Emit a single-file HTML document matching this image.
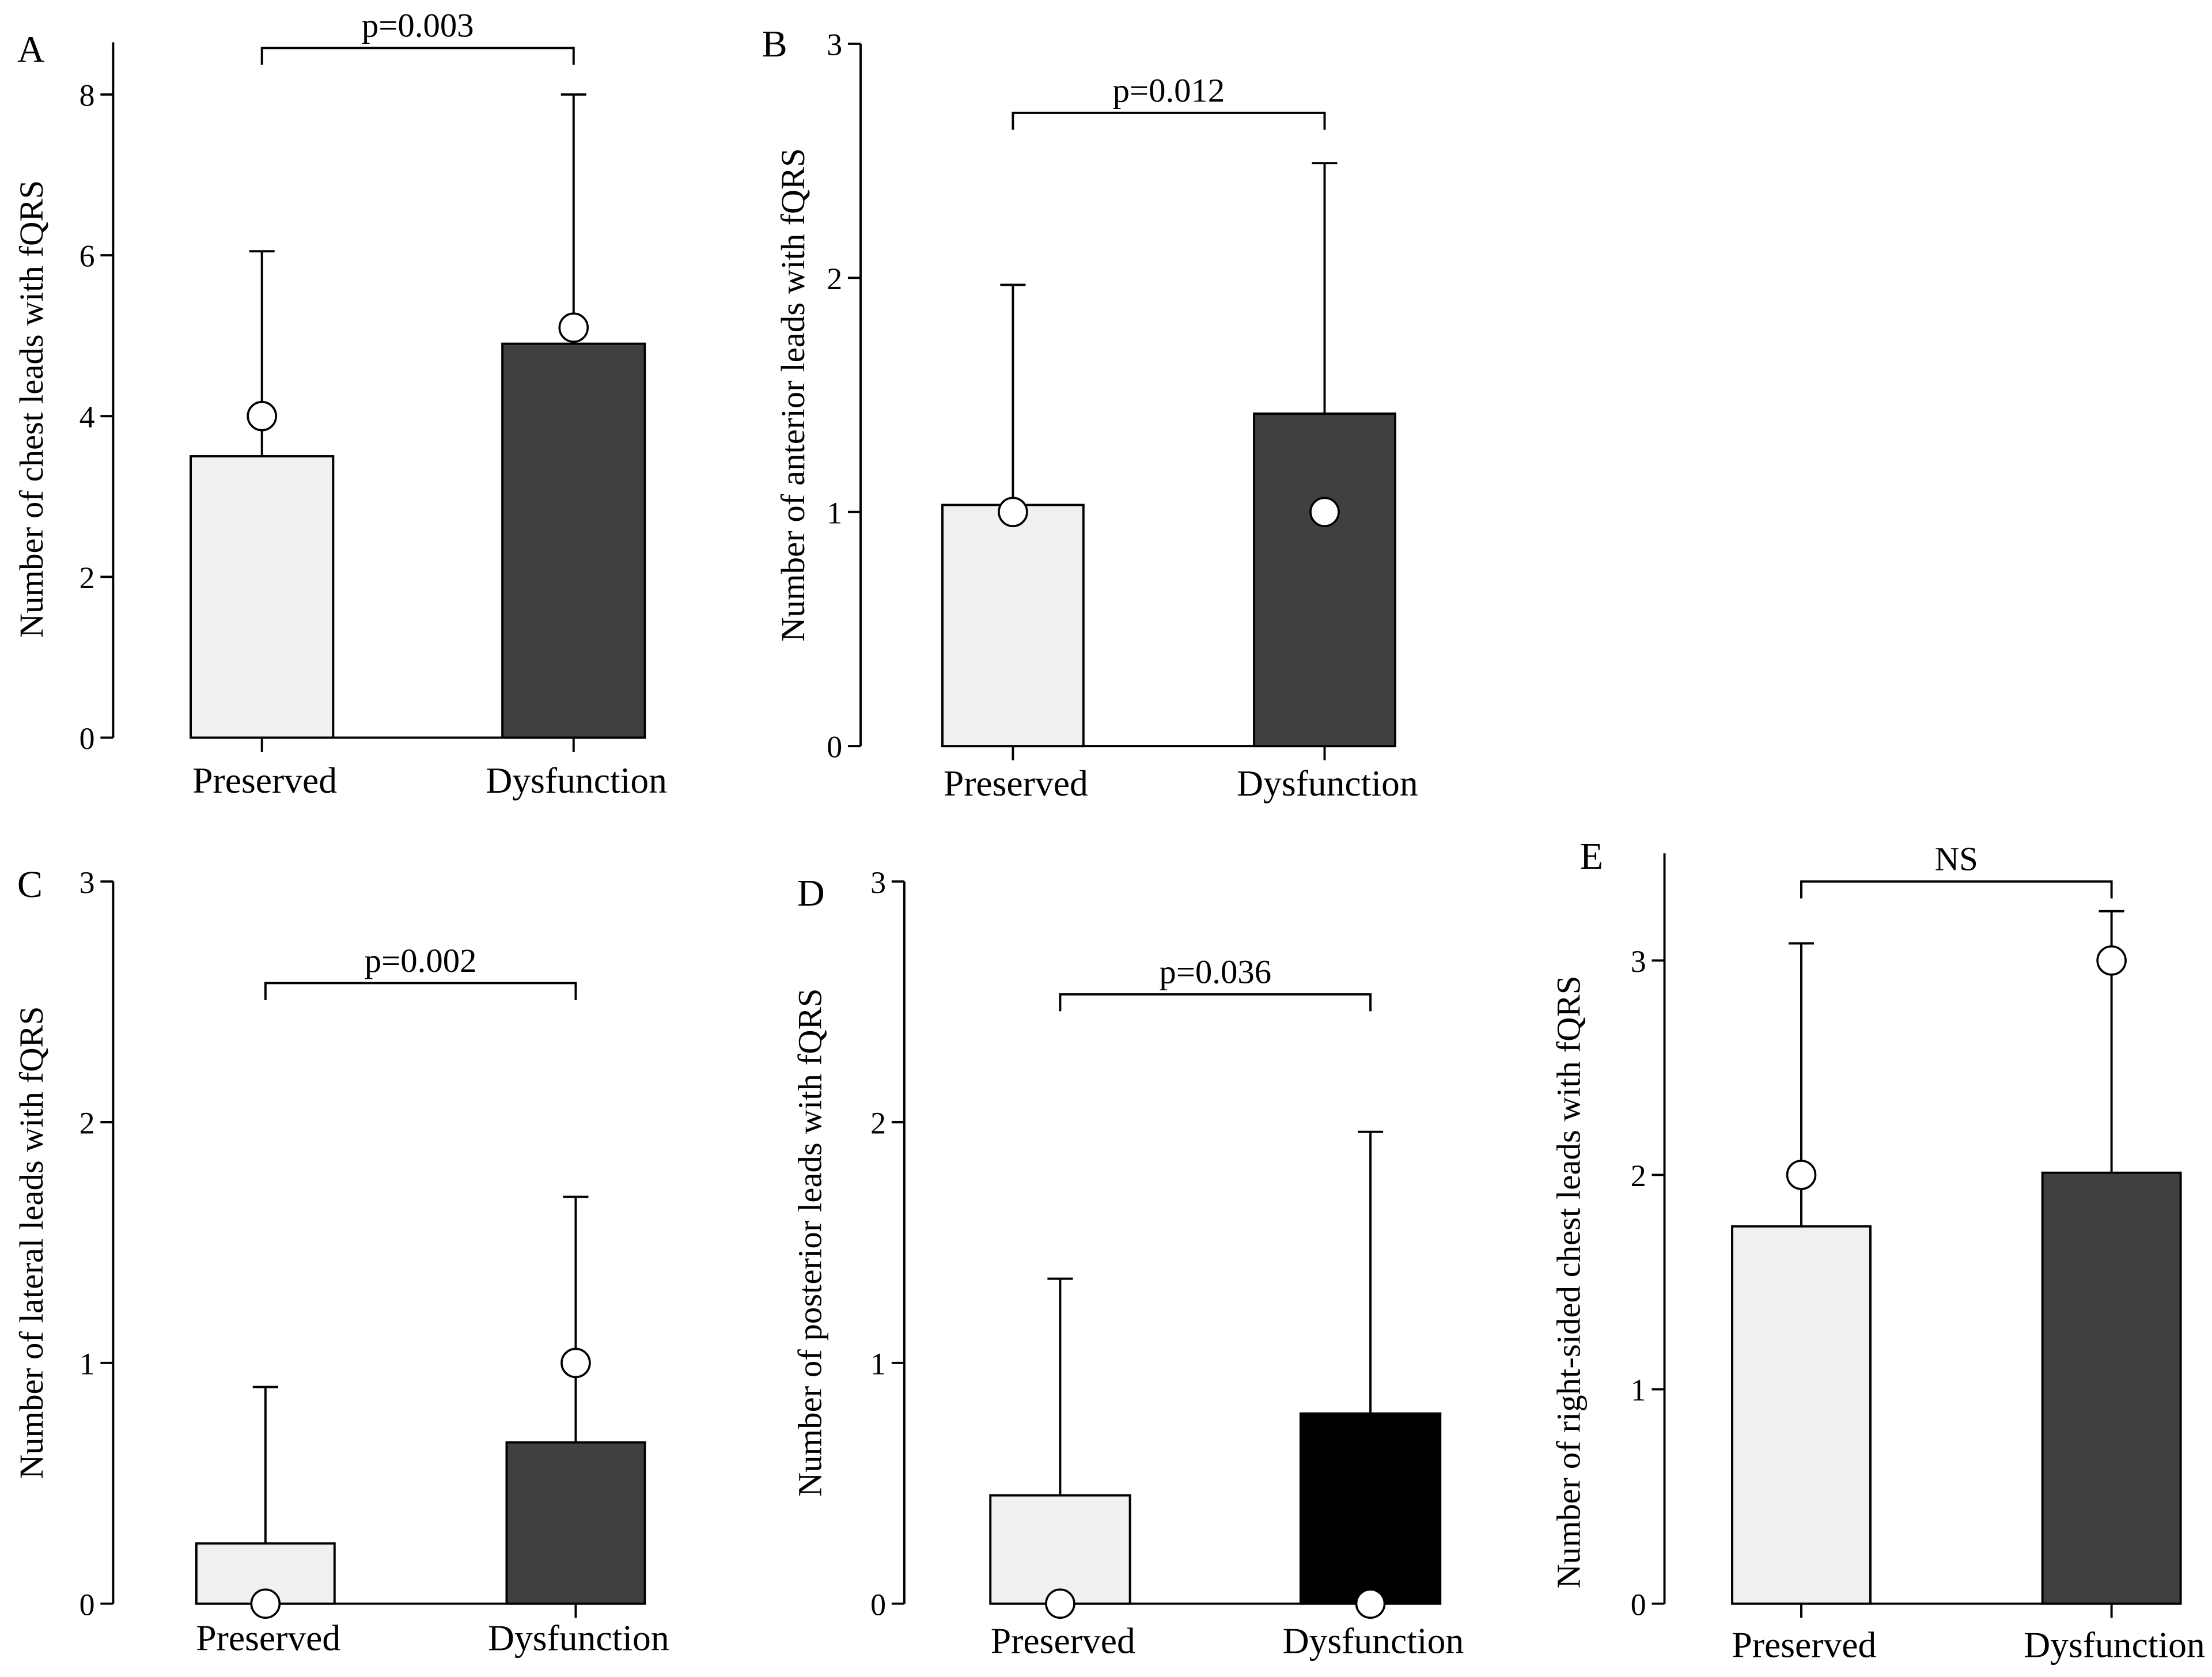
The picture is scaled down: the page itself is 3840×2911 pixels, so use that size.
<!DOCTYPE html>
<html><head><meta charset="utf-8"><style>
html,body{margin:0;padding:0;background:#fff;}
svg{display:block;}
text{font-family:"Liberation Serif",serif;fill:#000;}
</style></head><body>
<svg id="chart" width="3840" height="2911" viewBox="0 0 1568 1189" xmlns="http://www.w3.org/2000/svg"></svg>
<script>
const categories = ["Preserved","Dysfunction"];
const panelLabels = ["A","B","C","D","E"];
const yTitles = ["Number of chest leads with fQRS","Number of anterior leads with fQRS","Number of lateral leads with fQRS","Number of posterior leads with fQRS","Number of right-sided  chest leads with fQRS"];
const meanA = [3.5, 4.9], errA = [6.05, 8.0], medA = [4, 5.1];
const meanB = [1.03, 1.42], errB = [1.97, 2.49], medB = [1, 1];
const meanC = [0.25, 0.67], errC = [0.9, 1.69], medC = [0, 1];
const meanD = [0.45, 0.79], errD = [1.35, 1.96], medD = [0, 0];
const meanE = [1.76, 2.01], errE = [3.08, 3.23], medE = [2, 3];
const ticksA = [0,2,4,6,8], ticksB = [0,1,2,3], ticksC = [0,1,2,3], ticksD = [0,1,2,3], ticksE = [0,1,2,3];
const pLabels = ["p=0.003","p=0.012","p=0.002","p=0.036","NS"];

const layouts = [
 {ax:80, y0:523, yTop:67, vTop:8, axisTop:30, b1:135, b2:356, bw:101, br:34, cat:562, lx:12, ly:44, tx:30, dark:["#f0f0f0","#404040"], tick:ticksA, mean:meanA, err:errA, med:medA},
 {ax:610, y0:529, yTop:31, vTop:3, axisTop:31, b1:668, b2:889, bw:100, br:80, cat:564, lx:540, ly:40, tx:570, dark:["#f0f0f0","#404040"], tick:ticksB, mean:meanB, err:errB, med:medB},
 {ax:80, y0:1137, yTop:625, vTop:3, axisTop:625, b1:139, b2:359, bw:98, br:697, cat:1170, lx:12, ly:636, tx:30, dark:["#f0f0f0","#404040"], tick:ticksC, mean:meanC, err:errC, med:medC},
 {ax:641, y0:1137, yTop:625, vTop:3, axisTop:625, b1:702, b2:922, bw:99, br:705, cat:1172, lx:565, ly:642, tx:582, dark:["#f0f0f0","#000000"], tick:ticksD, mean:meanD, err:errD, med:medD},
 {ax:1180, y0:1137, yTop:681, vTop:3, axisTop:605, b1:1228, b2:1448, bw:98, br:625, cat:1175, lx:1120, ly:616, tx:1120, dark:["#f0f0f0","#404040"], tick:ticksE, mean:meanE, err:errE, med:medE}
];
const svg = document.getElementById('chart');
const NS = 'http://www.w3.org/2000/svg';
function mk(tag, attrs, parent){const e=document.createElementNS(NS,tag);for(const k in attrs)e.setAttribute(k,attrs[k]);(parent||svg).appendChild(e);return e;}

layouts.forEach((L,i)=>{
  const g = mk('g',{});
  
  
  const y = v => L.y0 - (v/L.vTop)*(L.y0-L.yTop);
  const ln = (x1,y1,x2,y2,w)=>mk('line',{x1,y1,x2,y2,stroke:'#000','stroke-width':w||1.6},g);
  const pl = mk('text',{x:L.lx,y:L.ly,'font-size':27},g); pl.textContent=panelLabels[i];
   
  const axis = ln(L.ax,L.axisTop,L.ax,L.y0);
   
  L.tick.forEach(t=>{
    ln(L.ax-9,y(t),L.ax,y(t));
    const tt = mk('text',{x:L.ax-13,y:y(t)+8,'font-size':22,'text-anchor':'end'},g); tt.textContent=t;
     
  });
  const yc = (L.y0+L.yTop)/2 - (i===0?5:0);
  const yt = mk('text',{x:0,y:0,'font-size':24,'text-anchor':'middle',transform:`translate(${L.tx},${yc}) rotate(-90)`},g);
  yt.textContent = yTitles[i];
   
  ln(L.b1,L.y0,L.b2+L.bw,L.y0);
  const xs=[L.b1,L.b2];
  xs.forEach((bx,j)=>{
    const cx = bx+L.bw/2;
    ln(cx,y(L.err[j]),cx,y(L.mean[j]));
    ln(cx-9,y(L.err[j]),cx+9,y(L.err[j]));
    const r = mk('rect',{x:bx,y:y(L.mean[j]),width:L.bw,height:L.y0-y(L.mean[j]),fill:L.dark[j],stroke:'#000','stroke-width':1.6},g);
     
    ln(cx,L.y0,cx,L.y0+10);
    const c = mk('circle',{cx,cy:y(L.med[j]),r:10,fill:'#fff',stroke:'#000','stroke-width':1.5},g);
     
    const ct = mk('text',{x:cx+2,y:L.cat,'font-size':26,'text-anchor':'middle'},g); ct.textContent=categories[j];
     
  });
  const c1=L.b1+L.bw/2, c2=L.b2+L.bw/2;
  const br = mk('path',{d:`M${c1},${L.br+12}V${L.br}H${c2}V${L.br+12}`,fill:'none',stroke:'#000','stroke-width':1.6},g);
   
  const pt = mk('text',{x:(c1+c2)/2,y:L.br-8,'font-size':24,'text-anchor':'middle'},g); pt.textContent=pLabels[i];
   
});
</script>
</body></html>
